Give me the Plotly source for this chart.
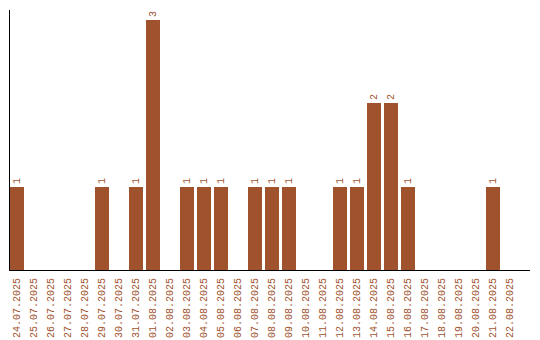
import plotly.graph_objects as go

dates = ["24.07.2025", "25.07.2025", "26.07.2025", "27.07.2025", "28.07.2025",
         "29.07.2025", "30.07.2025", "31.07.2025", "01.08.2025", "02.08.2025",
         "03.08.2025", "04.08.2025", "05.08.2025", "06.08.2025", "07.08.2025",
         "08.08.2025", "09.08.2025", "10.08.2025", "11.08.2025", "12.08.2025",
         "13.08.2025", "14.08.2025", "15.08.2025", "16.08.2025", "17.08.2025",
         "18.08.2025", "19.08.2025", "20.08.2025", "21.08.2025", "22.08.2025"]
counts = [1, 0, 0, 0, 0, 1, 0, 1, 3, 0,
          1, 1, 1, 0, 1, 1, 1, 0, 0, 1,
          1, 2, 2, 1, 0, 0, 0, 0, 1, 0]

color = "#A0522D"
labels = [str(c) if c > 0 else "" for c in counts]

fig = go.Figure(go.Bar(
    x=list(range(len(dates))), y=counts,
    marker=dict(color=color, line=dict(width=0)),
    width=14 / 17,
    text=labels, textposition="outside", textangle=-90,
    textfont=dict(family="Liberation Mono", size=10, color=color),
    cliponaxis=False,
))

fig.update_layout(
    width=540, height=340,
    margin=dict(l=10, r=10, t=10, b=70),
    paper_bgcolor="white", plot_bgcolor="white",
    showlegend=False,
    bargap=0,
    xaxis=dict(
        range=[-7 / 17, 30.18],
        tickmode="array", tickvals=list(range(len(dates))), ticktext=dates,
        tickangle=-90, automargin=False,
        tickfont=dict(family="Liberation Mono", size=10, color=color),
        showline=True, linecolor="black", linewidth=1,
        showgrid=False, zeroline=False, ticks="", ticklabelstandoff=3,
    ),
    yaxis=dict(
        range=[0, 3.12], automargin=False,
        showticklabels=False, showline=True, linecolor="black", linewidth=1,
        showgrid=False, zeroline=False, ticks="",
    ),
)

fig.write_html("out.html")
